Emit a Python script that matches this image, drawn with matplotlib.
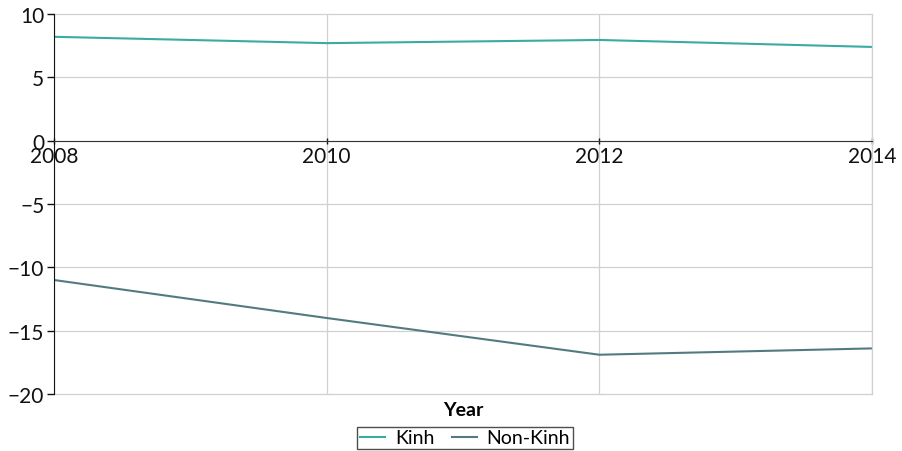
import matplotlib.pyplot as plt

years = [2008, 2010, 2012, 2014]
kinh = [8.2, 7.7, 7.95, 7.4]
non_kinh = [-11.0, -14.0, -16.9, -16.4]

plt.rcParams['font.family'] = ['Lato', 'DejaVu Sans']

fig = plt.figure(figsize=(9.02, 4.52), dpi=100)
ax = fig.add_axes([54 / 902, 1 - 395 / 452, (872 - 54) / 902, 380 / 452])

ax.plot(years, kinh, color='#3aaaa5', lw=1.5, label='Kinh')
ax.plot(years, non_kinh, color='#537a80', lw=1.5, label='Non-Kinh')

ax.set_xlim(2008, 2014)
ax.set_ylim(-20, 10)
ax.set_xticks(years)
ax.set_yticks([-20, -15, -10, -5, 0, 5, 10])
ax.set_yticklabels(['\u221220', '\u221215', '\u221210', '\u22125', '0', '5', '10'])
ax.grid(True, color='#d0d0d0', lw=0.9)
ax.set_axisbelow(True)
for gl in ax.get_xgridlines() + ax.get_ygridlines():
    gl.set_clip_on(False)

ax.spines['top'].set_visible(False)
ax.spines['right'].set_color('#d0d0d0')
ax.spines['right'].set_linewidth(0.9)
ax.spines['bottom'].set_position(('data', 0))
ax.spines['bottom'].set_color('#333333')
ax.spines['left'].set_color('#111111')
ax.tick_params(axis='both', labelsize=15, colors='#111111', length=5, width=1)
ax.tick_params(axis='x', direction='inout', pad=1)
ax.tick_params(axis='y', pad=2)

fig.text(463 / 902, 1 - 411 / 452, 'Year', ha='center', va='center',
         fontsize=14, fontweight='bold')
leg = fig.legend(loc='center', bbox_to_anchor=(465 / 902, 1 - 439 / 452),
                 ncol=2, fontsize=14, frameon=True, fancybox=False,
                 handlelength=1.3, handletextpad=0.5, columnspacing=0.9,
                 borderpad=0.15, borderaxespad=0)
leg.get_frame().set_edgecolor('#222222')
leg.get_frame().set_linewidth(1)

fig.savefig('out.png', dpi=100)
